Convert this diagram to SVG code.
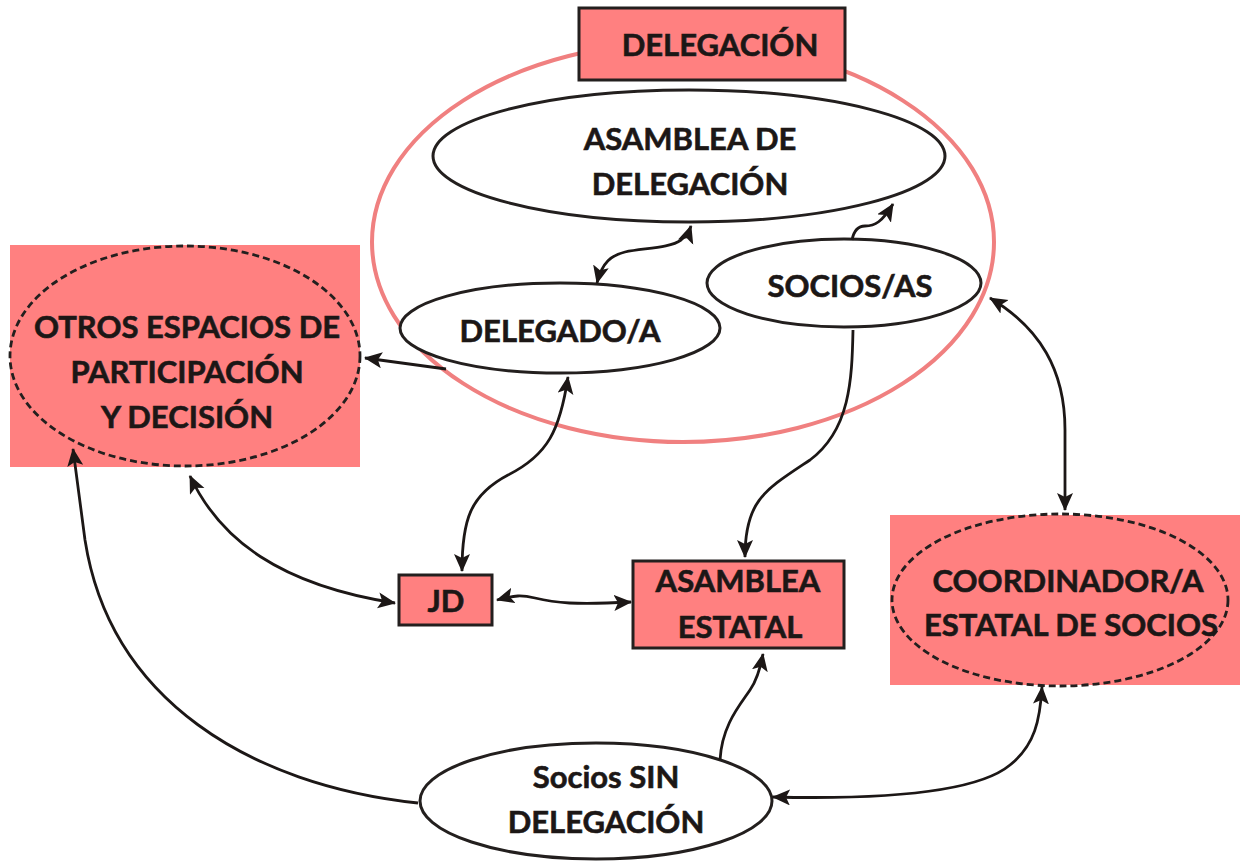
<svg xmlns="http://www.w3.org/2000/svg" width="1243" height="864" viewBox="0 0 1243 864">
<style>
.t{font-family:Lato,"Open Sans","Liberation Sans",sans-serif;font-weight:bold;font-size:31px;fill:#1c1716;stroke:#1c1716;stroke-width:0.6;text-anchor:middle}
.box{fill:#ff8080;stroke:#231f1e;stroke-width:3}
.pad{fill:#ff8080;stroke:none}
.dash{fill:none;stroke:#231f1e;stroke-width:2.8;stroke-dasharray:7 4}
.ell{fill:#fff;stroke:#231f1e;stroke-width:3}
.c{fill:none;stroke:#1c1716;stroke-width:2.8}
.one{marker-end:url(#ah)}
.two{marker-start:url(#ah);marker-end:url(#ah)}
</style>
<defs>
<marker id="ah" markerUnits="userSpaceOnUse" markerWidth="20" markerHeight="18" refX="17" refY="8" orient="auto-start-reverse">
<path d="M0,0 L18,8 L0,16 L4,8 Z" fill="#1c1716"/>
</marker>
</defs>
<rect width="1243" height="864" fill="#fff"/>

<g id="delegacion-area">
<ellipse cx="683" cy="242" rx="311" ry="200" fill="none" stroke="#f08080" stroke-width="4"/>
</g>

<g id="delegacion">
<rect class="box" x="579" y="8" width="266" height="72"/>
<text class="t" x="720" y="56">DELEGACIÓN</text>
</g>

<g id="asamblea-delegacion">
<ellipse class="ell" cx="689" cy="156" rx="256" ry="66"/>
<text class="t" x="690" y="150">ASAMBLEA DE</text>
<text class="t" x="690" y="195">DELEGACIÓN</text>
</g>

<g id="socios">
<ellipse class="ell" cx="844" cy="283" rx="137" ry="44"/>
<text class="t" x="850" y="297">SOCIOS/AS</text>
</g>

<g id="delegado">
<ellipse class="ell" cx="560" cy="328" rx="160" ry="45"/>
<text class="t" x="560" y="342">DELEGADO/A</text>
</g>

<g id="otros-espacios">
<rect class="pad" x="10" y="245" width="350" height="222"/>
<ellipse class="dash" cx="185" cy="356" rx="175" ry="110"/>
<text class="t" x="187" y="338">OTROS ESPACIOS DE</text>
<text class="t" x="187" y="383">PARTICIPACIÓN</text>
<text class="t" x="187" y="428">Y DECISIÓN</text>
</g>

<g id="jd">
<rect class="box" x="399" y="575" width="93" height="50"/>
<text class="t" x="446" y="612">JD</text>
</g>

<g id="asamblea-estatal">
<rect class="box" x="633" y="561" width="211" height="87"/>
<text class="t" x="738" y="592">ASAMBLEA</text>
<text class="t" x="740" y="638">ESTATAL</text>
</g>

<g id="coordinador">
<rect class="pad" x="890" y="515" width="350" height="170"/>
<ellipse class="dash" cx="1060" cy="600" rx="168" ry="86"/>
<text class="t" x="1068" y="592">COORDINADOR/A</text>
<text class="t" x="1071" y="636">ESTATAL DE SOCIOS</text>
</g>

<g id="socios-sin-delegacion">
<ellipse class="ell" cx="596" cy="801" rx="176" ry="58"/>
<text class="t" x="606" y="788">Socios SIN</text>
<text class="t" x="606" y="833">DELEGACIÓN</text>
</g>

<g id="connectors">
<path class="c two" d="M597,283 C602,262 612,255 625,252 C645,248 670,248 681,240 C686,236 689,232 691,226"/>
<path class="c one" d="M852,240 C854,230 858,226 865,226 C875,226 882,222 893,204"/>
<path class="c one" d="M446,369 L365,358"/>
<path class="c two" d="M568,377 C560,430 548,455 508,475 C470,495 462,520 462,571"/>
<path class="c one" d="M853,330 C852,380 850,430 810,460 C765,490 745,500 745,557"/>
<path class="c two" d="M990,298 C1040,328 1065,370 1065,430 L1065,510"/>
<path class="c two" d="M190,476 C220,540 280,585 395,603"/>
<path class="c two" d="M497,600 C515,595 522,595 535,598 C555,603 575,605 631,602"/>
<path class="c one" d="M418,803 C250,785 110,700 85,540 L73,449"/>
<path class="c one" d="M720,760 C722,725 740,705 750,690 C757,680 760,670 763,654"/>
<path class="c two" d="M773,797 C900,800 980,790 1010,765 C1035,745 1040,720 1042,687"/>
</g>
</svg>
